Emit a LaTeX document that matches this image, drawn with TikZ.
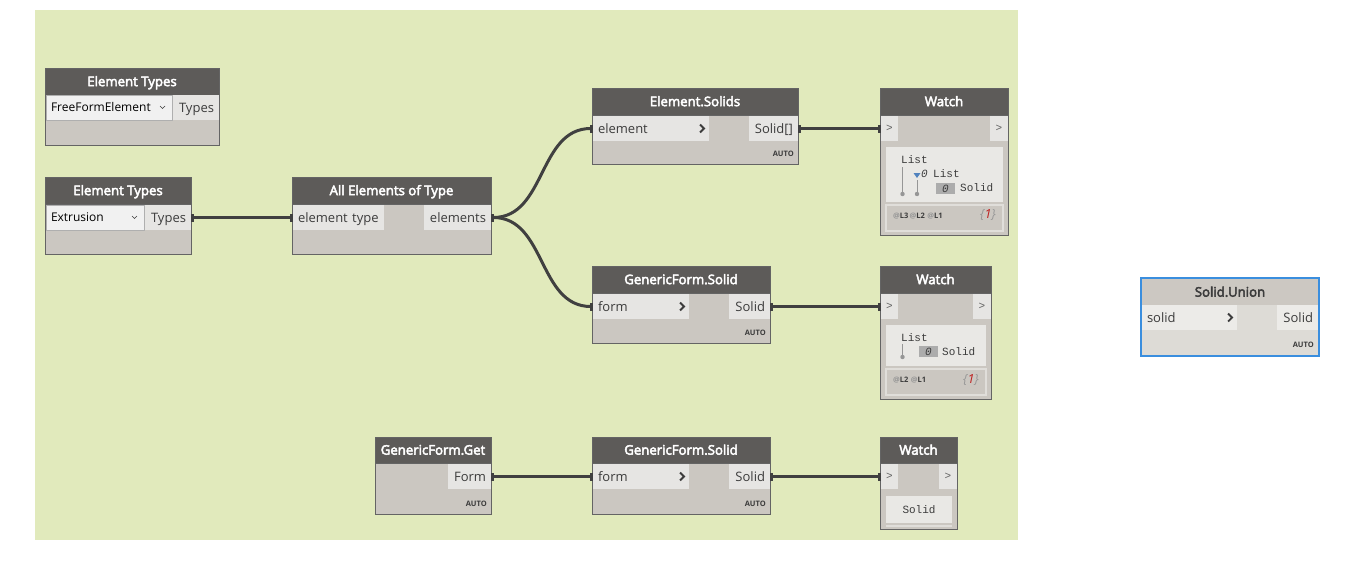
\documentclass[tikz,border=0pt]{standalone}
\usepackage{fontspec}
\setmainfont{Open Sans}
\newfontfamily\ttlfam{Open Sans}[FakeBold=3.6]
\newfontfamily\monof{Liberation Mono}
\usetikzlibrary{arrows.meta,calc}
\definecolor{grp}{RGB}{225,234,188}
\definecolor{hdr}{RGB}{93,91,89}
\definecolor{bdy}{RGB}{203,199,193}
\definecolor{brd}{RGB}{100,100,100}
\definecolor{prt}{RGB}{230,229,227}
\definecolor{ptx}{RGB}{60,60,60}
\definecolor{wirec}{RGB}{64,64,64}
\definecolor{innr}{RGB}{233,232,229}
\definecolor{selb}{RGB}{58,142,222}
\definecolor{ubody}{RGB}{221,219,214}
\definecolor{uhead}{RGB}{204,200,194}
\definecolor{uport}{RGB}{236,235,232}
\definecolor{ddfill}{RGB}{241,241,241}
\definecolor{ddbrd}{RGB}{175,175,175}
\definecolor{treec}{RGB}{150,150,150}
\definecolor{zbox}{RGB}{172,172,172}
\definecolor{tri}{RGB}{80,130,190}
\definecolor{footb}{RGB}{224,222,218}
\definecolor{redn}{RGB}{190,30,30}
\newcommand\ttlf{\ttlfam\fontsize{13.2}{15}\selectfont}
\newcommand\prtf{\fontsize{13}{15}\selectfont}
\newcommand\autof{\fontsize{7.5}{8}\selectfont\bfseries}
\newcommand\lvlf{\fontsize{7.5}{8}\selectfont\bfseries}
\newcommand\monosz{\monof\fontsize{11}{12}\selectfont}
\begin{document}
\begin{tikzpicture}[x=1pt,y=-1pt,
  frame/.style={draw=brd, fill=bdy, line width=1pt, anchor=north west, inner sep=0, outer sep=0},
  head/.style={draw=brd, fill=hdr, line width=1pt, anchor=north west, inner sep=0, outer sep=0, minimum height=27, text=white, font=\ttlf, text height=9.3pt, text depth=0pt},
  port/.style={fill=prt, anchor=north west, inner ysep=0, inner xsep=5, outer sep=0, minimum height=25, text=ptx, font=\prtf, text height=9.3pt, text depth=0pt},
  inl/.style={port, align=left},
  outl/.style={port, align=right},
  wp/.style={port, align=center, text width=7, font=\monosz, text=ptx!80, text height=6pt},
  dd/.style={draw=ddbrd, fill=ddfill, line width=.8pt, anchor=north west, inner ysep=0, inner xsep=5, outer sep=0, minimum height=25, align=left, text=black, font=\fontsize{12}{14}\selectfont, text height=8.6pt, text depth=0pt},
  autot/.style={anchor=east, inner sep=0, font=\autof, text=ptx},
  chev/.style={draw=ptx, line width=1.8pt},
  ddchev/.style={draw=ptx, line width=.7pt},
  wire/.style={draw=wirec, line width=3pt, {Rectangle[length=3pt,width=8pt]}-{Rectangle[length=3pt,width=8pt]}},
  inbox/.style={fill=innr, anchor=north west, inner sep=0, outer sep=0},
  footbox/.style={draw=footb, fill=bdy, line width=1.5pt, anchor=north west, inner sep=0, outer sep=0},
  mono/.style={anchor=west, inner sep=0, font=\monosz, text=ptx},
  tree/.style={draw=treec, line width=1pt},
  lvl/.style={anchor=west, inner sep=0, font=\lvlf, text=ptx},
  cnt/.style={anchor=east, inner sep=0, font=\fontsize{12.5}{14}\selectfont\itshape, text=treec}
]
\useasboundingbox (0,0) rectangle (1356,586);
\fill[white] (0,0) rectangle (1356,586);
\fill[grp] (35,10) rectangle (1018,540);

% ---------- A: Element Types (FreeFormElement)
\node[frame, minimum width=174, minimum height=77] (nA) at (45,68) {};
\node[head, minimum width=174] (hA) at (45,68) {Element Types};
\node[dd, text width=116] (ddA) at (46,95) {FreeFormElement};
\draw[ddchev] ($(ddA.east)+(-12,-1.5)$) -- ++(2.5,2.5) -- ++(2.5,-2.5);
\node[outl, text width=36] (tA) at (173,95) {Types};

% ---------- B: Element Types (Extrusion)
\node[frame, minimum width=146, minimum height=77] (nB) at (45,177) {};
\node[head, minimum width=146] (hB) at (45,177) {Element Types};
\node[dd, text width=88] (ddB) at (46,205) {Extrusion};
\draw[ddchev] ($(ddB.east)+(-12,-1.5)$) -- ++(2.5,2.5) -- ++(2.5,-2.5);
\node[outl, text width=36] (tB) at (145,205) {Types};

% ---------- C: All Elements of Type
\node[frame, minimum width=199, minimum height=77] (nC) at (292,177) {};
\node[head, minimum width=199] (hC) at (292,177) {All Elements of Type};
\node[inl, text width=81] (cIn) at (293,205) {element type};
\node[outl, text width=57] (cOut) at (424,205) {elements};

% ---------- D: Element.Solids
\node[frame, minimum width=206, minimum height=76] (nD) at (592,88) {};
\node[head, minimum width=206] (hD) at (592,88) {Element.Solids};
\node[inl, text width=106] (dIn) at (593,116) {element};
\draw[chev] ($(dIn.east)+(-9,-4)$) -- ++(4,4) -- ++(-4,4);
\node[outl, text width=39] (dOut) at (749,116) {Solid[]};
\node[autot] (aD) at ($(nD.south east)+(-4,-10)$) {AUTO};

% ---------- E: Watch 1
\node[frame, minimum width=128, minimum height=147] (nE) at (880,88) {};
\node[head, minimum width=128] (hE) at (880,88) {Watch};
\node[wp] (eIn) at (881,116) {>};
\node[wp, text width=8] (eOut) at (990,116) {>};
\node[inbox, minimum width=117, minimum height=55] (eBox) at (886,147) {};
\node[mono] (eL1) at (901,160) {List};
\draw[tree] (902.5,167) -- (902.5,193);
\fill[treec] (902.5,194) circle (2.2);
\fill[tri] (913.5,173) -- (920.5,173) -- (917,178) -- cycle;
\node[mono] (eZ1) at (921,174) {\itshape 0};
\node[mono] (eL2) at (933,174) {List};
\draw[tree] (917,180) -- (917,193);
\fill[treec] (917,194) circle (2.2);
\fill[zbox] (936,183) rectangle (955,194);
\node[mono, anchor=center] (eZ2) at (945.5,188.5) {\itshape 0};
\node[mono] (eS) at (960,188) {Solid};
\node[footbox, minimum width=117, minimum height=26] (eFoot) at (886,205) {};
\node[lvl] (eLv) at (893,216) {{\color{treec}@}L3\,{\color{treec}@}L2\,\,{\color{treec}@}L1};
\node[cnt] (eCnt) at (996,215) {\{{\color{redn}1}\}};

% ---------- F: GenericForm.Solid (middle)
\node[frame, minimum width=178, minimum height=77] (nF) at (592,266) {};
\node[head, minimum width=178] (hF) at (592,266) {GenericForm.Solid};
\node[inl, text width=86] (fIn) at (593,294) {form};
\draw[chev] ($(fIn.east)+(-9,-4)$) -- ++(4,4) -- ++(-4,4);
\node[outl, text width=31] (fOut) at (729,294) {Solid};
\node[autot] (aF) at ($(nF.south east)+(-4,-10)$) {AUTO};

% ---------- G: Watch 2
\node[frame, minimum width=111, minimum height=133] (nG) at (880,266) {};
\node[head, minimum width=111] (hG) at (880,266) {Watch};
\node[wp] (gIn) at (881,294) {>};
\node[wp, text width=8] (gOut) at (973,294) {>};
\node[inbox, minimum width=100, minimum height=41] (gBox) at (886,325) {};
\node[mono] (gL1) at (901,338) {List};
\draw[tree] (902.5,344) -- (902.5,356);
\fill[treec] (902.5,357) circle (2.2);
\fill[zbox] (919,346) rectangle (938,357);
\node[mono, anchor=center] (gZ) at (928.5,351.5) {\itshape 0};
\node[mono] (gS) at (942,352) {Solid};
\node[footbox, minimum width=100, minimum height=26] (gFoot) at (886,369) {};
\node[lvl] (gLv) at (893,380) {{\color{treec}@}L2\,\,{\color{treec}@}L1};
\node[cnt] (gCnt) at (979,380) {\{{\color{redn}1}\}};

% ---------- H: Solid.Union (selected)
\node[frame, draw=none, fill=ubody, minimum width=178, minimum height=78] (nH) at (1141,278) {};
\node[head, draw=none, fill=uhead, text=ptx, minimum width=176, minimum height=26] (hH) at (1142,279) {Solid.Union};
\node[inl, fill=uport, text width=85] (hIn) at (1142,305) {solid};
\draw[chev] ($(hIn.east)+(-9,-4)$) -- ++(4,4) -- ++(-4,4);
\node[outl, fill=uport, text width=31] (hOut) at (1277,305) {Solid};
\node[autot] (aH) at ($(nH.south east)+(-5,-11)$) {AUTO};
\draw[selb, line width=2pt] (nH.north west) rectangle (nH.south east);

% ---------- I: GenericForm.Get
\node[frame, minimum width=116, minimum height=77] (nI) at (375,437) {};
\node[head, minimum width=116, minimum height=26] (hI) at (375,437) {GenericForm.Get};
\node[outl, text width=33] (iOut) at (448,464) {Form};
\node[autot] (aI) at ($(nI.south east)+(-4,-10)$) {AUTO};

% ---------- J: GenericForm.Solid (bottom)
\node[frame, minimum width=178, minimum height=77] (nJ) at (592,437) {};
\node[head, minimum width=178, minimum height=26] (hJ) at (592,437) {GenericForm.Solid};
\node[inl, text width=86] (jIn) at (593,464) {form};
\draw[chev] ($(jIn.east)+(-9,-4)$) -- ++(4,4) -- ++(-4,4);
\node[outl, text width=31] (jOut) at (729,464) {Solid};
\node[autot] (aJ) at ($(nJ.south east)+(-4,-10)$) {AUTO};

% ---------- K: Watch 3
\node[frame, minimum width=77, minimum height=92] (nK) at (880,437) {};
\node[head, minimum width=77, minimum height=26] (hK) at (880,437) {Watch};
\node[wp] (kIn) at (881,464) {>};
\node[wp, text width=8] (kOut) at (939,464) {>};
\node[inbox, minimum width=66, minimum height=27] (kBox) at (886,496) {};
\node[mono, anchor=center] (kS) at (919,509.5) {Solid};
\draw[footb, line width=1.5pt] (886,526) -- (952,526);

% ---------- wires
\draw[wire] (tB.east) -- (cIn.west);
\draw[wire] (cOut.east) .. controls +(55,0) and +(-55,0) .. (dIn.west);
\draw[wire] (cOut.east) .. controls +(55,0) and +(-55,0) .. (fIn.west);
\draw[wire] (dOut.east) -- (eIn.west);
\draw[wire] (fOut.east) -- (gIn.west);
\draw[wire] (iOut.east) -- (jIn.west);
\draw[wire] (jOut.east) -- (kIn.west);
\end{tikzpicture}
\end{document}
